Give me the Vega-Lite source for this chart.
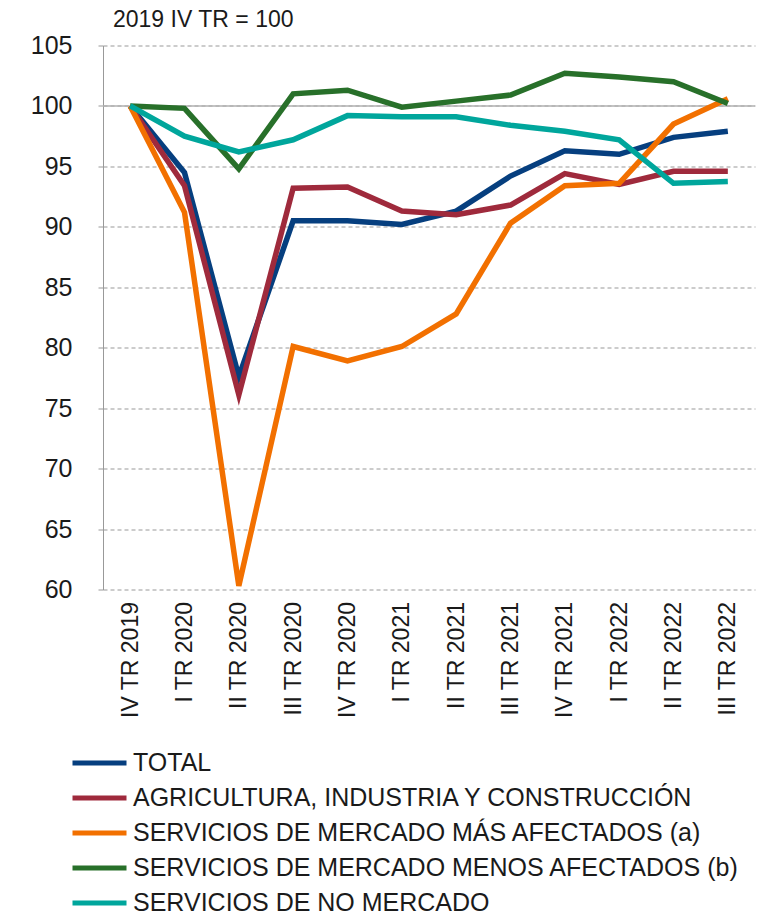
{
  "$schema": "https://vega.github.io/schema/vega-lite/v6.json",
  "width": 652,
  "height": 544,
  "padding": {"left": 30, "top": 8.5, "right": 5, "bottom": 5},
  "config": {
    "font": "Liberation Sans",
    "view": {"stroke": null},
    "axis": {"labelColor": "#1a1a1a", "labelFont": "Liberation Sans"}
  },
  "title": {"text": "2019 IV TR = 100", "anchor": "start", "frame": "group", "fontSize": 23, "fontWeight": "normal", "color": "#1a1a1a", "offset": 1.5, "dx": 10},
  "datasets": {
    "d": [
      {"q": "IV TR 2019", "s": "TOTAL", "v": 100},
      {"q": "I TR 2020", "s": "TOTAL", "v": 94.5},
      {"q": "II TR 2020", "s": "TOTAL", "v": 77.6},
      {"q": "III TR 2020", "s": "TOTAL", "v": 90.5},
      {"q": "IV TR 2020", "s": "TOTAL", "v": 90.5},
      {"q": "I TR 2021", "s": "TOTAL", "v": 90.2},
      {"q": "II TR 2021", "s": "TOTAL", "v": 91.3},
      {"q": "III TR 2021", "s": "TOTAL", "v": 94.2},
      {"q": "IV TR 2021", "s": "TOTAL", "v": 96.3},
      {"q": "I TR 2022", "s": "TOTAL", "v": 96.0},
      {"q": "II TR 2022", "s": "TOTAL", "v": 97.4},
      {"q": "III TR 2022", "s": "TOTAL", "v": 97.9},
      {"q": "IV TR 2019", "s": "AGRICULTURA, INDUSTRIA Y CONSTRUCCIÓN", "v": 100},
      {"q": "I TR 2020", "s": "AGRICULTURA, INDUSTRIA Y CONSTRUCCIÓN", "v": 93.4},
      {"q": "II TR 2020", "s": "AGRICULTURA, INDUSTRIA Y CONSTRUCCIÓN", "v": 76.1},
      {"q": "III TR 2020", "s": "AGRICULTURA, INDUSTRIA Y CONSTRUCCIÓN", "v": 93.2},
      {"q": "IV TR 2020", "s": "AGRICULTURA, INDUSTRIA Y CONSTRUCCIÓN", "v": 93.3},
      {"q": "I TR 2021", "s": "AGRICULTURA, INDUSTRIA Y CONSTRUCCIÓN", "v": 91.3},
      {"q": "II TR 2021", "s": "AGRICULTURA, INDUSTRIA Y CONSTRUCCIÓN", "v": 91.0},
      {"q": "III TR 2021", "s": "AGRICULTURA, INDUSTRIA Y CONSTRUCCIÓN", "v": 91.8},
      {"q": "IV TR 2021", "s": "AGRICULTURA, INDUSTRIA Y CONSTRUCCIÓN", "v": 94.4},
      {"q": "I TR 2022", "s": "AGRICULTURA, INDUSTRIA Y CONSTRUCCIÓN", "v": 93.5},
      {"q": "II TR 2022", "s": "AGRICULTURA, INDUSTRIA Y CONSTRUCCIÓN", "v": 94.6},
      {"q": "III TR 2022", "s": "AGRICULTURA, INDUSTRIA Y CONSTRUCCIÓN", "v": 94.6},
      {"q": "IV TR 2019", "s": "SERVICIOS DE MERCADO MÁS AFECTADOS (a)", "v": 100},
      {"q": "I TR 2020", "s": "SERVICIOS DE MERCADO MÁS AFECTADOS (a)", "v": 91.2},
      {"q": "II TR 2020", "s": "SERVICIOS DE MERCADO MÁS AFECTADOS (a)", "v": 60.3},
      {"q": "III TR 2020", "s": "SERVICIOS DE MERCADO MÁS AFECTADOS (a)", "v": 80.1},
      {"q": "IV TR 2020", "s": "SERVICIOS DE MERCADO MÁS AFECTADOS (a)", "v": 78.9},
      {"q": "I TR 2021", "s": "SERVICIOS DE MERCADO MÁS AFECTADOS (a)", "v": 80.1},
      {"q": "II TR 2021", "s": "SERVICIOS DE MERCADO MÁS AFECTADOS (a)", "v": 82.8},
      {"q": "III TR 2021", "s": "SERVICIOS DE MERCADO MÁS AFECTADOS (a)", "v": 90.3},
      {"q": "IV TR 2021", "s": "SERVICIOS DE MERCADO MÁS AFECTADOS (a)", "v": 93.4},
      {"q": "I TR 2022", "s": "SERVICIOS DE MERCADO MÁS AFECTADOS (a)", "v": 93.6},
      {"q": "II TR 2022", "s": "SERVICIOS DE MERCADO MÁS AFECTADOS (a)", "v": 98.5},
      {"q": "III TR 2022", "s": "SERVICIOS DE MERCADO MÁS AFECTADOS (a)", "v": 100.6},
      {"q": "IV TR 2019", "s": "SERVICIOS DE MERCADO MENOS AFECTADOS (b)", "v": 100},
      {"q": "I TR 2020", "s": "SERVICIOS DE MERCADO MENOS AFECTADOS (b)", "v": 99.8},
      {"q": "II TR 2020", "s": "SERVICIOS DE MERCADO MENOS AFECTADOS (b)", "v": 94.8},
      {"q": "III TR 2020", "s": "SERVICIOS DE MERCADO MENOS AFECTADOS (b)", "v": 101.0},
      {"q": "IV TR 2020", "s": "SERVICIOS DE MERCADO MENOS AFECTADOS (b)", "v": 101.3},
      {"q": "I TR 2021", "s": "SERVICIOS DE MERCADO MENOS AFECTADOS (b)", "v": 99.9},
      {"q": "II TR 2021", "s": "SERVICIOS DE MERCADO MENOS AFECTADOS (b)", "v": 100.4},
      {"q": "III TR 2021", "s": "SERVICIOS DE MERCADO MENOS AFECTADOS (b)", "v": 100.9},
      {"q": "IV TR 2021", "s": "SERVICIOS DE MERCADO MENOS AFECTADOS (b)", "v": 102.7},
      {"q": "I TR 2022", "s": "SERVICIOS DE MERCADO MENOS AFECTADOS (b)", "v": 102.4},
      {"q": "II TR 2022", "s": "SERVICIOS DE MERCADO MENOS AFECTADOS (b)", "v": 102.0},
      {"q": "III TR 2022", "s": "SERVICIOS DE MERCADO MENOS AFECTADOS (b)", "v": 100.2},
      {"q": "IV TR 2019", "s": "SERVICIOS DE NO MERCADO", "v": 100},
      {"q": "I TR 2020", "s": "SERVICIOS DE NO MERCADO", "v": 97.5},
      {"q": "II TR 2020", "s": "SERVICIOS DE NO MERCADO", "v": 96.2},
      {"q": "III TR 2020", "s": "SERVICIOS DE NO MERCADO", "v": 97.2},
      {"q": "IV TR 2020", "s": "SERVICIOS DE NO MERCADO", "v": 99.2},
      {"q": "I TR 2021", "s": "SERVICIOS DE NO MERCADO", "v": 99.1},
      {"q": "II TR 2021", "s": "SERVICIOS DE NO MERCADO", "v": 99.1},
      {"q": "III TR 2021", "s": "SERVICIOS DE NO MERCADO", "v": 98.4},
      {"q": "IV TR 2021", "s": "SERVICIOS DE NO MERCADO", "v": 97.9},
      {"q": "I TR 2022", "s": "SERVICIOS DE NO MERCADO", "v": 97.2},
      {"q": "II TR 2022", "s": "SERVICIOS DE NO MERCADO", "v": 93.6},
      {"q": "III TR 2022", "s": "SERVICIOS DE NO MERCADO", "v": 93.75}
    ],
    "ref": [{"y": 100}]
  },
  "layer": [
    {
      "data": {"name": "ref"},
      "mark": {"type": "rule", "color": "#b0b0b0", "strokeWidth": 1.5},
      "encoding": {"y": {"field": "y", "type": "quantitative", "scale": {"domain": [60, 105]}}}
    },
    {
      "data": {"name": "d"},
      "mark": {"type": "line", "strokeWidth": 5.5, "strokeJoin": "miter", "strokeCap": "butt"},
      "encoding": {
        "x": {
          "field": "q", "type": "ordinal", "sort": null,
          "scale": {"type": "point", "padding": 0.5},
          "axis": {"title": null, "labelAngle": -90, "labelAlign": "right", "labelBaseline": "middle", "labelFontSize": 23, "labelPadding": 12, "ticks": false, "domain": false, "grid": false}
        },
        "y": {
          "field": "v", "type": "quantitative",
          "scale": {"domain": [60, 105], "nice": false, "zero": false},
          "axis": {"title": null, "values": [60, 65, 70, 75, 80, 85, 90, 95, 100, 105], "labelFontSize": 25, "labelPadding": 26, "tickSize": 5, "tickColor": "#999", "domainColor": "#999", "gridColor": "#999", "gridDash": [4, 3], "grid": true}
        },
        "color": {
          "field": "s", "type": "nominal",
          "scale": {
            "domain": ["TOTAL", "AGRICULTURA, INDUSTRIA Y CONSTRUCCIÓN", "SERVICIOS DE MERCADO MÁS AFECTADOS (a)", "SERVICIOS DE MERCADO MENOS AFECTADOS (b)", "SERVICIOS DE NO MERCADO"],
            "range": ["#063f7f", "#9f2a3c", "#f27000", "#28702a", "#00a69c"]
          },
          "legend": {
            "title": null, "orient": "none", "legendX": -34, "legendY": 705, "direction": "vertical",
            "symbolType": "M-1,0H5", "symbolSize": 324, "symbolStrokeWidth": 5,
            "labelFontSize": 25, "labelColor": "#1a1a1a", "labelLimit": 800, "labelOffset": 39, "rowPadding": 9
          }
        }
      }
    }
  ]
}
